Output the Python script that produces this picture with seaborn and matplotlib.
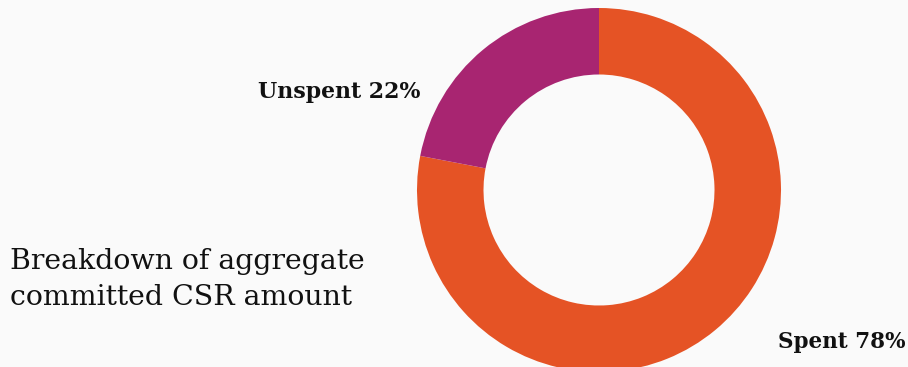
import matplotlib
matplotlib.use("Agg")
import matplotlib.pyplot as plt
import seaborn as sns

# Aggregate committed CSR amount, split by status
categories = ["Spent", "Unspent"]
shares = [78, 22]
colors = ["#e55325", "#a82571"]
title_lines = ["Breakdown of aggregate", "committed CSR amount"]

sns.set_theme(style="white")
plt.rcParams["font.family"] = ["DejaVu Serif"]

W, H = 908, 367
bg = "#fafafa"
fig = plt.figure(figsize=(W / 100, H / 100), dpi=100, facecolor=bg)

# donut: centre (599, 190) px, outer radius 182 px, hole radius 115.5 px
cx, cy, r = 599, 190, 182
ax = fig.add_axes([(cx - r) / W, (H - cy - r) / H, 2 * r / W, 2 * r / H])
ax.set_facecolor("none")
ax.pie(shares, colors=colors, startangle=90, counterclock=False, radius=1.0,
       wedgeprops=dict(width=1 - 115.5 / 182, edgecolor="none", linewidth=0))
ax.set_xlim(-1, 1)
ax.set_ylim(-1, 1)
ax.set_aspect("equal")
ax.axis("off")


def px_text(x, y_baseline, s, **kw):
    fig.text(x / W, (H - y_baseline) / H, s, va="baseline", color="#111111", **kw)


lab = {c: f"{c} {v}%" for c, v in zip(categories, shares)}
px_text(420, 98, lab["Unspent"], ha="right", fontsize=15.8, fontweight="bold")
px_text(778, 348, lab["Spent"], ha="left", fontsize=15.5, fontweight="bold")
for i, line in enumerate(title_lines):
    px_text(10, 269 + 36 * i, line, ha="left", fontsize=20.4)

fig.savefig("out.png", dpi=100, facecolor=bg)
